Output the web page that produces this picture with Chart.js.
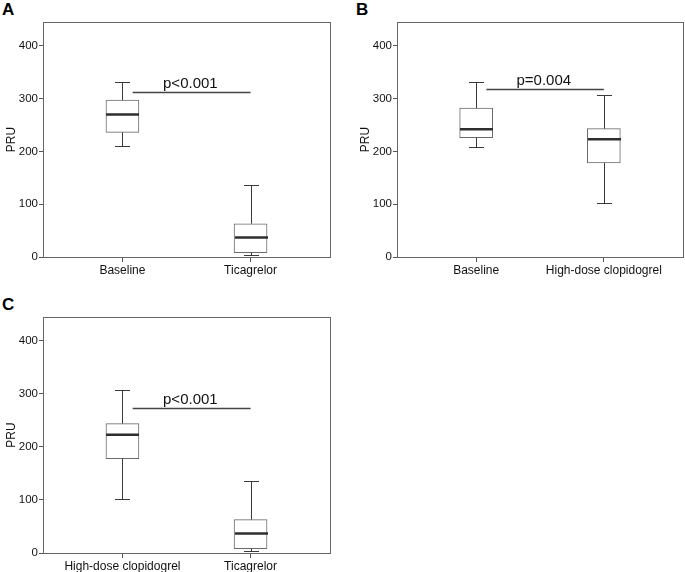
<!DOCTYPE html>
<html><head><meta charset="utf-8">
<script src="https://cdn.jsdelivr.net/npm/chart.js@4"></script>
<style>
body{margin:0;background:#fff;width:685px;height:572px;overflow:hidden;position:relative;font-family:"Liberation Sans",Arial,sans-serif}
.panel{position:absolute}
.lbl{position:absolute;font-weight:bold;font-size:17px;line-height:17px;color:#000}
</style></head><body>
<div class="lbl" style="left:2px;top:1px">A</div>
<div class="lbl" style="left:356px;top:1px">B</div>
<div class="lbl" style="left:2px;top:296px">C</div>
<div class="panel" style="left:0;top:0"><canvas id="cA" width="340" height="285"></canvas></div>
<div class="panel" style="left:354px;top:0"><canvas id="cB" width="331" height="285"></canvas></div>
<div class="panel" style="left:0;top:285px"><canvas id="cC" width="340" height="287"></canvas></div>
<script>
// ---- data ----
const yTicks = [0, 100, 200, 300, 400];

const catsA = ['Baseline', 'Ticagrelor'];
const minA = [210, 4];
const q1A  = [236, 8];
const medA = [270, 37];
const q3A  = [297, 63];
const maxA = [332, 136];
const pA = 'p<0.001';
const pLevelA = 313;

const catsB = ['Baseline', 'High-dose clopidogrel'];
const minB = [209, 102];
const q1B  = [226, 178];
const medB = [242, 223];
const q3B  = [282, 243];
const maxB = [332, 306];
const pB = 'p=0.004';
const pLevelB = 318;

const catsC = ['High-dose clopidogrel', 'Ticagrelor'];
const minC = [102, 4];
const q1C  = [178, 8];
const medC = [223, 37];
const q3C  = [244, 63];
const maxC = [307, 136];
const pC = 'p<0.001';
const pLevelC = 273;

// ---- drawing ----
const FONT = '"Liberation Sans", Arial, sans-serif';
Chart.defaults.font.family = FONT;
Chart.defaults.color = '#111';

function makePanel(id, cats, mins, q1s, meds, q3s, maxs, pText, pLevel, padRight, padTop, xAxisH) {
  const boxData = cats.map((c, i) => ({x: i + 1, y: [q1s[i], q3s[i]]}));
  const plugin = {
    id: 'boxw_' + id,
    afterDatasetsDraw(chart) {
      const {ctx, chartArea: ca, scales: {x, y}} = chart;
      ctx.save();
      // frame
      ctx.strokeStyle = '#666'; ctx.lineWidth = 1;
      ctx.strokeRect(Math.round(ca.left) + 0.5, Math.round(ca.top) + 0.5,
                     Math.round(ca.right - ca.left), Math.round(ca.bottom - ca.top));
      cats.forEach((c, i) => {
        const cx = Math.round(x.getPixelForValue(i + 1)) + 0.5;
        const cap = 7.5, half = 16.5;
        ctx.strokeStyle = '#3a3a3a'; ctx.lineWidth = 1;
        ctx.beginPath();
        const yMax = Math.round(y.getPixelForValue(maxs[i])) + 0.5;
        const yMin = Math.round(y.getPixelForValue(mins[i])) + 0.5;
        ctx.moveTo(cx, y.getPixelForValue(q3s[i])); ctx.lineTo(cx, yMax);
        ctx.moveTo(cx, y.getPixelForValue(q1s[i])); ctx.lineTo(cx, yMin);
        ctx.moveTo(cx - cap, yMax); ctx.lineTo(cx + cap, yMax);
        ctx.moveTo(cx - cap, yMin); ctx.lineTo(cx + cap, yMin);
        ctx.stroke();
        ctx.strokeStyle = '#2e2e2e'; ctx.lineWidth = 2.5;
        const ym = y.getPixelForValue(meds[i]);
        ctx.beginPath(); ctx.moveTo(cx - half, ym); ctx.lineTo(cx + half, ym); ctx.stroke();
      });
      // significance line
      const py = Math.round(y.getPixelForValue(pLevel)) + 0.5;
      ctx.strokeStyle = '#444'; ctx.lineWidth = 1.3;
      ctx.beginPath();
      ctx.moveTo(x.getPixelForValue(1.08), py); ctx.lineTo(x.getPixelForValue(2.0), py);
      ctx.stroke();
      ctx.fillStyle = '#111';
      ctx.font = '15px ' + FONT;
      ctx.textAlign = 'center'; ctx.textBaseline = 'alphabetic';
      ctx.fillText(pText, x.getPixelForValue(1.53), py - 5);
      ctx.restore();
    }
  };
  return new Chart(document.getElementById(id), {
    type: 'bar',
    data: {
      datasets: [{
        data: boxData,
        backgroundColor: '#fff',
        borderColor: '#6a6a6a',
        borderWidth: 1,
        borderSkipped: false,
        barThickness: 33
      }]
    },
    options: {
      responsive: false,
      animation: false,
      events: [],
      layout: {padding: {left: 0, right: padRight, top: padTop, bottom: 0}},
      plugins: {legend: {display: false}, tooltip: {enabled: false}},
      scales: {
        x: {
          type: 'linear', min: 0.38, max: 2.62, offset: false,
          grid: {offset: false, drawOnChartArea: false, tickLength: 5, color: '#555'},
          border: {display: false},
          afterBuildTicks: s => { s.ticks = cats.map((c, i) => ({value: i + 1})); },
          afterFit: s => { s.height = xAxisH; },
          ticks: {autoSkip: false, maxRotation: 0, padding: 1, font: {size: 12}, color: '#111',
                  callback: v => cats[v - 1]}
        },
        y: {
          type: 'linear', min: 0, max: 445,
          grid: {drawOnChartArea: false, tickLength: 4, color: '#555'},
          border: {display: false},
          afterBuildTicks: s => { s.ticks = yTicks.map(v => ({value: v})); },
          afterFit: s => { s.width = 43; },
          ticks: {padding: 1, font: {size: 11.5}, color: '#111'},
          title: {display: true, text: 'PRU', font: {size: 12}, color: '#111', padding: {top: 4, bottom: 2}}
        }
      }
    },
    plugins: [plugin]
  });
}

makePanel('cA', catsA, minA, q1A, medA, q3A, maxA, pA, pLevelA, 10, 22, 28);
makePanel('cB', catsB, minB, q1B, medB, q3B, maxB, pB, pLevelB, 2, 22, 28);
makePanel('cC', catsC, minC, q1C, medC, q3C, maxC, pC, pLevelC, 10, 32, 19);
</script>
</body></html>
